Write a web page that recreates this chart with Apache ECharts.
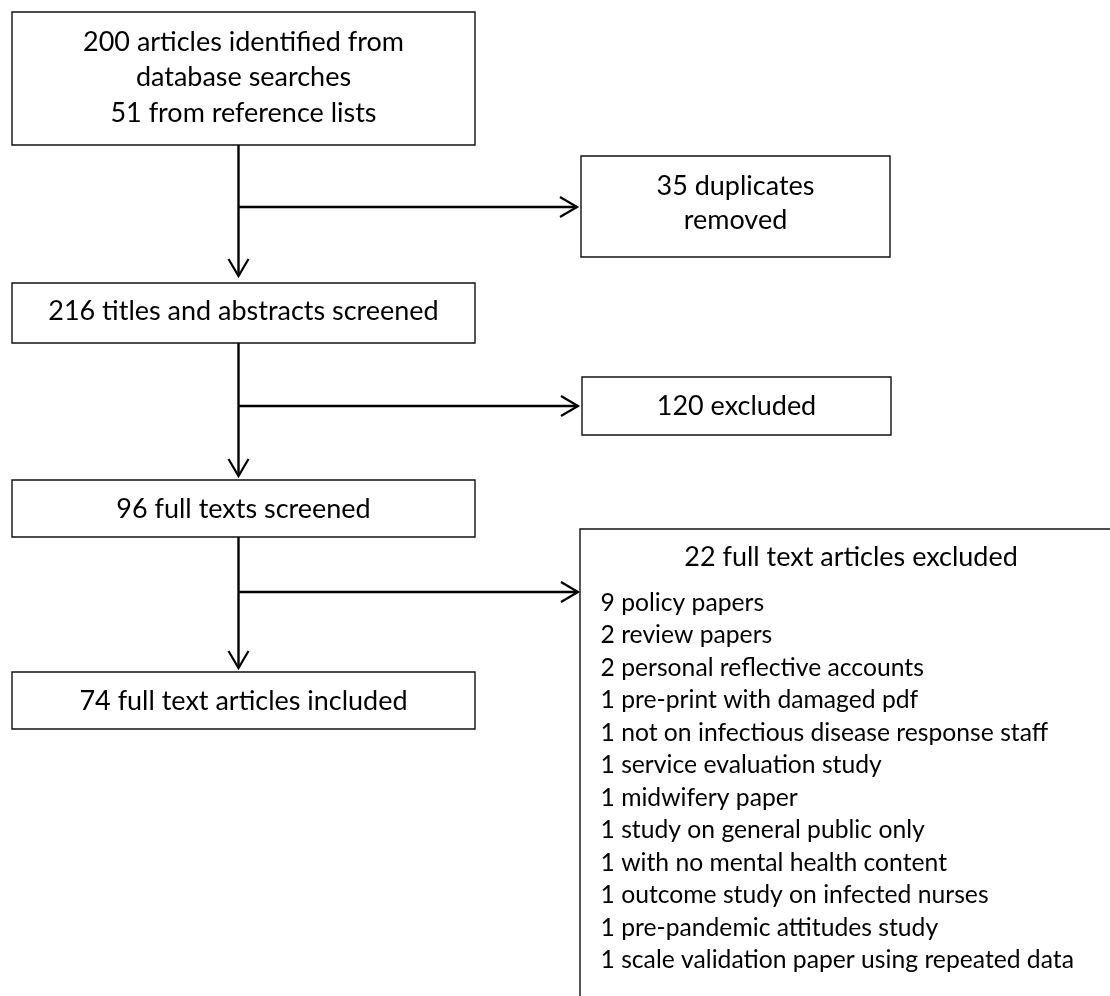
<!DOCTYPE html>
<html><head><meta charset="utf-8">
<script src="https://cdn.jsdelivr.net/npm/echarts@6/dist/echarts.min.js"></script>
<style>html,body{margin:0;padding:0;background:#fff}#chart{width:1110px;height:996px}</style>
</head><body><div id="chart"></div>
<script>
// ---- content (numbers and text of the flow diagram) ----
const identifiedFromDatabases = 200;
const identifiedFromReferences = 51;
const duplicatesRemoved = 35;
const titlesScreened = 216;
const titlesExcluded = 120;
const fullTextsScreened = 96;
const fullTextsExcluded = 22;
const fullTextsIncluded = 74;

const exclusionCounts = [9, 2, 2, 1, 1, 1, 1, 1, 1, 1, 1, 1];
const exclusionReasons = [
  'policy papers',
  'review papers',
  'personal reflective accounts',
  'pre-print with damaged pdf',
  'not on infectious disease response staff',
  'service evaluation study',
  'midwifery paper',
  'study on general public only',
  'with no mental health content',
  'outcome study on infected nurses',
  'pre-pandemic attitudes study',
  'scale validation paper using repeated data'
];

const boxTexts = [
  [identifiedFromDatabases + ' articles identified from', 'database searches', identifiedFromReferences + ' from reference lists'],
  [duplicatesRemoved + ' duplicates', 'removed'],
  [titlesScreened + ' titles and abstracts screened'],
  [titlesExcluded + ' excluded'],
  [fullTextsScreened + ' full texts screened'],
  [fullTextsIncluded + ' full text articles included']
];
const excludedTitle = fullTextsExcluded + ' full text articles excluded';
const excludedLines = exclusionCounts.map((c, i) => c + ' ' + exclusionReasons[i]);

// ---- layout (diagram coordinates, mapped through hidden value axes) ----
const boxLayout = [
  { r: [12, 12, 475, 145], cx: 243.5, ys: [42, 77, 113] },
  { r: [581, 156, 890, 257], cx: 735.5, ys: [186, 220] },
  { r: [12, 283, 475, 343], cx: 243.5, ys: [311] },
  { r: [582, 377, 891, 435], cx: 736.5, ys: [406] },
  { r: [12, 480, 475, 537], cx: 243.5, ys: [509] },
  { r: [12, 672, 475, 729], cx: 243.5, ys: [701] }
];
const bigBox = { r: [580, 529, 1300, 1200], titleX: 851, titleY: 557, itemX: 600.5, itemY0: 603, itemStep: 32.5 };
const trunkX = 238.5;
const arrowLayout = [
  { from: [trunkX, 145], to: [trunkX, 276], dir: 'down' },
  { from: [trunkX, 343], to: [trunkX, 476], dir: 'down' },
  { from: [trunkX, 537], to: [trunkX, 668], dir: 'down' },
  { from: [trunkX, 207], to: [577, 207], dir: 'right' },
  { from: [trunkX, 406], to: [578, 406], dir: 'right' },
  { from: [trunkX, 592], to: [578, 592], dir: 'right' }
];

const FONT = 'Lato';
function fitSize(text, width) {
  const c = document.createElement('canvas').getContext('2d');
  c.font = '100px ' + FONT;
  return 100 * width / c.measureText(text).width;
}
const boxFont = fitSize(boxTexts[0][0], 321);
const itemFont = fitSize(excludedLines[4], 448);

const chart = echarts.init(document.getElementById('chart'), null, { renderer: 'canvas' });

function boxItem(params, api) {
  const i = api.value(0);
  const L = boxLayout[i];
  const p0 = api.coord([L.r[0], L.r[1]]);
  const p1 = api.coord([L.r[2], L.r[3]]);
  const children = [{
    type: 'rect',
    shape: { x: p0[0], y: p0[1], width: p1[0] - p0[0], height: p1[1] - p0[1] },
    style: { fill: '#fff', stroke: '#111', lineWidth: 1.4 }
  }];
  boxTexts[i].forEach((t, k) => {
    const c = api.coord([L.cx, L.ys[k]]);
    children.push({ type: 'text', style: { text: t, x: c[0], y: c[1], align: 'center', verticalAlign: 'middle', font: boxFont.toFixed(2) + 'px ' + FONT, fill: '#000' } });
  });
  return { type: 'group', children };
}

function bigBoxItem(params, api) {
  const B = bigBox;
  const p0 = api.coord([B.r[0], B.r[1]]);
  const p1 = api.coord([B.r[2], B.r[3]]);
  const children = [{
    type: 'rect',
    shape: { x: p0[0], y: p0[1], width: p1[0] - p0[0], height: p1[1] - p0[1] },
    style: { fill: '#fff', stroke: '#111', lineWidth: 1.4 }
  }];
  const tc = api.coord([B.titleX, B.titleY]);
  children.push({ type: 'text', style: { text: excludedTitle, x: tc[0], y: tc[1], align: 'center', verticalAlign: 'middle', font: boxFont.toFixed(2) + 'px ' + FONT, fill: '#000' } });
  excludedLines.forEach((t, k) => {
    const c = api.coord([B.itemX, B.itemY0 + k * B.itemStep]);
    children.push({ type: 'text', style: { text: t, x: c[0], y: c[1], align: 'left', verticalAlign: 'middle', font: itemFont.toFixed(2) + 'px ' + FONT, fill: '#000' } });
  });
  return { type: 'group', children };
}

function arrowItem(params, api) {
  const A = arrowLayout[api.value(0)];
  const a = api.coord(A.from), b = api.coord(A.to);
  const len = 17, half = 10;
  let head;
  if (A.dir === 'down') head = [[b[0] - half, b[1] - len], [b[0], b[1]], [b[0] + half, b[1] - len]];
  else head = [[b[0] - len, b[1] - half], [b[0], b[1]], [b[0] - len, b[1] + half]];
  return {
    type: 'group', children: [
      { type: 'line', shape: { x1: a[0], y1: a[1], x2: b[0], y2: b[1] - (A.dir === 'down' ? 1 : 0) }, style: { stroke: '#000', lineWidth: 2.4 } },
      { type: 'polyline', shape: { points: head }, style: { stroke: '#000', lineWidth: 2.2, fill: null, lineJoin: 'miter' } }
    ]
  };
}

chart.setOption({
  backgroundColor: '#fff',
  animation: false,
  grid: { left: 0, right: 0, top: 0, bottom: 0 },
  xAxis: { type: 'value', min: 0, max: 1110, show: false },
  yAxis: { type: 'value', min: 0, max: 996, inverse: true, show: false },
  series: [
    { type: 'custom', renderItem: arrowItem, data: arrowLayout.map((a, i) => [i, 0]), encode: { x: 0, y: 1 }, clip: true, silent: true, z: 1 },
    { type: 'custom', renderItem: boxItem, data: boxLayout.map((b, i) => [i, 0]), encode: { x: 0, y: 1 }, clip: false, silent: true, z: 2 },
    { type: 'custom', renderItem: bigBoxItem, data: [[0, 0]], encode: { x: 0, y: 1 }, clip: false, silent: true, z: 2 }
  ]
});
</script>
</body></html>
